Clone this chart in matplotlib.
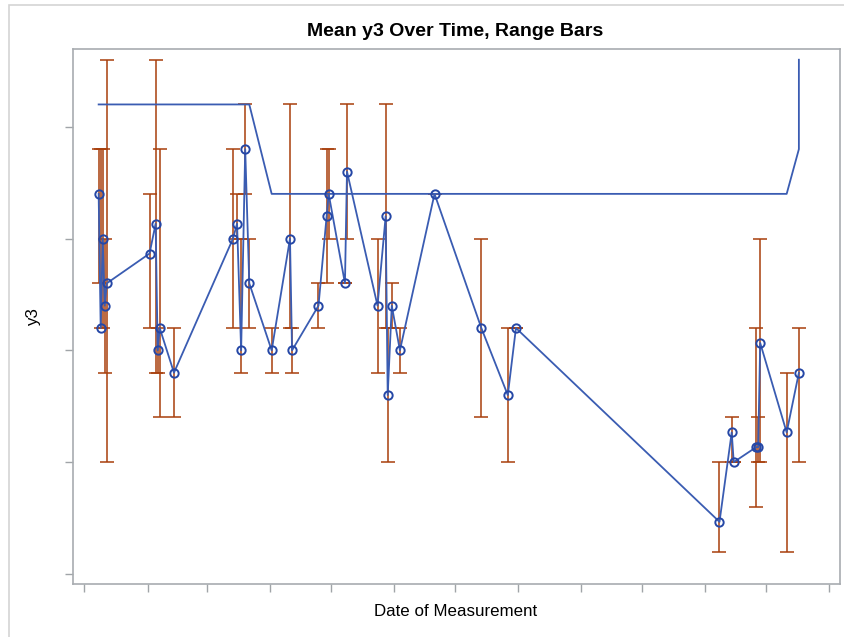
import matplotlib
matplotlib.use("Agg")
import matplotlib.pyplot as plt
import matplotlib.dates as mdates
import numpy as np
from matplotlib.patches import Rectangle

# measurement dates, mean y3 and the min/max range per date
dates = ["2020-01-08", "2020-01-09", "2020-01-10", "2020-01-11", "2020-01-12",
         "2020-02-02", "2020-02-05", "2020-02-06", "2020-02-07", "2020-02-14",
         "2020-03-14", "2020-03-16", "2020-03-18", "2020-03-20", "2020-03-22",
         "2020-04-02", "2020-04-11", "2020-04-12", "2020-04-25", "2020-04-29",
         "2020-04-30", "2020-05-08", "2020-05-09", "2020-05-24", "2020-05-28",
         "2020-05-29", "2020-05-31", "2020-06-04", "2020-06-21", "2020-07-14",
         "2020-07-27", "2020-07-31", "2020-11-08", "2020-11-14", "2020-11-15",
         "2020-11-26", "2020-11-27", "2020-11-28", "2020-12-11", "2020-12-17"]
mean_y3 = [17, 11, 15, 12, 13,
           14.33, 15.67, 10, 11, 9,
           15, 15.67, 10, 19, 13,
           10, 15, 10, 12, 16,
           17, 13, 18, 12, 16,
           8, 12, 10, 17, 11,
           8, 11, 2.33, 6.33, 5,
           5.67, 5.67, 10.33, 6.33, 9]
min_y3 = [13, 11, 11, 9, 5,
          11, 9, 9, 7, 7,
          11, 15, 9, 17, 11,
          9, 11, 9, 11, 13,
          15, 13, 15, 9, 11,
          5, 11, 9, 17, 7,
          5, 11, 1, 5, 5,
          3, 5, 5, 1, 5]
max_y3 = [19, 19, 19, 15, 23,
          17, 23, 11, 19, 11,
          19, 17, 15, 21, 15,
          11, 21, 11, 13, 19,
          19, 13, 21, 15, 21,
          11, 13, 11, 17, 15,
          11, 11, 5, 7, 5,
          11, 7, 15, 9, 11]

# second (unmarked) line
line2_dates = ["2020-01-08", "2020-03-22", "2020-04-02", "2020-12-11", "2020-12-17", "2020-12-17"]
line2_y3 = [21, 21, 17, 17, 19, 23]

month_ticks = ["2020-%02d-01" % m for m in range(1, 13)] + ["2021-01-01"]

x = np.array(dates, dtype="datetime64[D]")
x2 = np.array(line2_dates, dtype="datetime64[D]")
mean_arr = np.array(mean_y3)
yerr = [mean_arr - np.array(min_y3), np.array(max_y3) - mean_arr]

W, H = 844, 637
fig = plt.figure(figsize=(W / 100, H / 100), dpi=100)
fig.patches.append(Rectangle((9 / W, -0.1), 1.2, 1 - 4.5 / H + 0.1, transform=fig.transFigure,
                             fill=False, ec="#d4d4d4", lw=1.2))
ax = fig.add_axes([73 / W, 1 - 584 / H, (840 - 73) / W, (584 - 49) / H])

red = "#a83f0c"
blue = "#3a5cb2"
ax.errorbar(x, mean_y3, yerr=yerr, fmt="none", ecolor=red, elinewidth=1.1,
            capsize=4.8, capthick=1.1, zorder=2)
ax.plot(x2, line2_y3, color=blue, lw=1.3, zorder=3)
ax.plot(x, mean_y3, color=blue, lw=1.3, marker="o", ms=6, mfc="none",
        mec="#2547a6", mew=1.4, zorder=4)

origin = mdates.date2num(np.datetime64("2020-01-01"))
ax.set_xlim(origin - 5.6, origin + 371.2)
ax.set_ylim(-0.45, 23.48)
ax.set_xticks(mdates.date2num(np.array(month_ticks, dtype="datetime64[D]")))
ax.set_yticks([0, 5, 10, 15, 20])
ax.set_xticklabels([])
ax.set_yticklabels([])
ax.tick_params(direction="out", length=6, width=1, color="#a0a4a8")
for s in ax.spines.values():
    s.set_color("#a8acb0")
    s.set_linewidth(1.2)

fnt = "Liberation Sans"
fig.text(455.5 / W, 1 - 31 / H, "Mean y3 Over Time, Range Bars", ha="center", va="center",
         fontsize=14, fontweight="bold", family=fnt)
fig.text(455.5 / W, 1 - 612 / H, "Date of Measurement", ha="center", va="center",
         fontsize=12.2, family=fnt)
fig.text(34 / W, 1 - 317 / H, "y3", ha="center", va="center", rotation=90,
         fontsize=12.2, family=fnt)

fig.savefig("out.png", dpi=100)
